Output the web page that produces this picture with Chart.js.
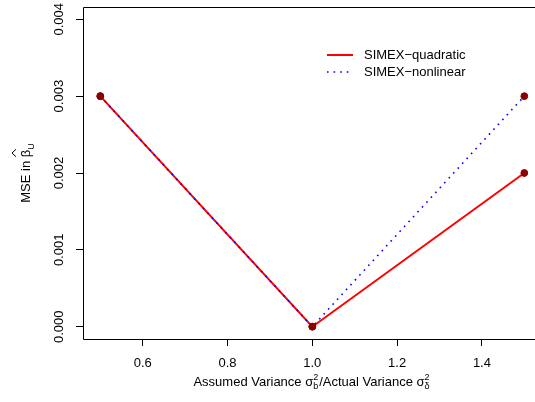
<!DOCTYPE html>
<html><head><meta charset="utf-8">
<script src="https://cdn.jsdelivr.net/npm/chart.js@4/dist/chart.umd.min.js"></script>
<style>html,body{margin:0;padding:0;overflow:hidden;background:#fff}canvas{display:block}</style>
</head><body>
<canvas id="c" width="535" height="402"></canvas>
<script>
const xValues = [0.5, 1.0, 1.5];
const quadraticMSE = [0.003, 0.0000, 0.002];
const nonlinearMSE = [0.003, 0.0000, 0.003];
const xTickValues = [0.6, 0.8, 1.0, 1.2, 1.4];
const xTickLabels = ['0.6', '0.8', '1.0', '1.2', '1.4'];
const yTickValues = [0, 0.001, 0.002, 0.003, 0.004];
const yTickLabels = ['0.000', '0.001', '0.002', '0.003', '0.004'];
const seriesLabels = ['SIMEX\u2212quadratic', 'SIMEX\u2212nonlinear'];

const FONT = '"Liberation Sans", Arial, sans-serif';
const toPts = ys => xValues.map((x, i) => ({x: x, y: ys[i]}));

const boxPlugin = {
  id: 'rbox',
  afterDraw(chart) {
    const {ctx, chartArea: a, scales} = chart;
    ctx.save();
    ctx.strokeStyle = '#000'; ctx.lineWidth = 1;
    const L = Math.round(a.left) + 0.5, T = Math.round(a.top) + 0.5, B = Math.round(a.bottom) + 0.5;
    ctx.beginPath(); ctx.moveTo(L, T); ctx.lineTo(chart.width, T); ctx.stroke();
    ctx.beginPath(); ctx.moveTo(L, T); ctx.lineTo(L, B); ctx.stroke();
    ctx.beginPath(); ctx.moveTo(L, B); ctx.lineTo(chart.width, B); ctx.stroke();
    // y tick labels (rotated)
    ctx.fillStyle = '#000';
    ctx.font = '13px ' + FONT;
    ctx.textAlign = 'center'; ctx.textBaseline = 'middle';
    yTickValues.forEach((v, i) => {
      const y = scales.y.getPixelForValue(v);
      ctx.save(); ctx.translate(59, y); ctx.rotate(-Math.PI / 2);
      ctx.fillText(yTickLabels[i], 0, 0); ctx.restore();
    });
    // y title: MSE in beta-hat_U
    const cy = (a.top + a.bottom) / 2;
    ctx.save(); ctx.translate(30, cy); ctx.rotate(-Math.PI / 2);
    ctx.textAlign = 'left'; ctx.textBaseline = 'alphabetic';
    const t1 = 'MSE in ';
    ctx.font = '13px ' + FONT;
    const w1 = ctx.measureText(t1).width;
    const wb = ctx.measureText('\u03b2').width;
    ctx.font = '9px ' + FONT;
    const ws = ctx.measureText('U').width;
    const total = w1 + wb + ws;
    const x0 = -total / 2;
    ctx.font = '13px ' + FONT;
    ctx.fillText(t1, x0, 0);
    ctx.fillText('\u03b2', x0 + w1, 0);
    ctx.lineWidth = 1; ctx.strokeStyle = '#000';
    ctx.beginPath();
    ctx.moveTo(x0 + w1 + 0.5, -14); ctx.lineTo(x0 + w1 + wb / 2 + 0.5, -18); ctx.lineTo(x0 + w1 + wb + 0.5, -14);
    ctx.stroke();
    ctx.font = '9px ' + FONT;
    ctx.fillText('U', x0 + w1 + wb, 4);
    ctx.restore();
    // x title
    ctx.save();
    const parts = [
      {t: 'Assumed Variance \u03c3'}, {sup: '2', sub: 'b'},
      {t: '/Actual Variance \u03c3'}, {sup: '2', sub: '\u03b4'}
    ];
    let tw = 0;
    parts.forEach(p => {
      if (p.t) { ctx.font = '13px ' + FONT; p.w = ctx.measureText(p.t).width; }
      else { ctx.font = '9px ' + FONT; p.w = Math.max(ctx.measureText(p.sup).width, ctx.measureText(p.sub).width) + 1; }
      tw += p.w;
    });
    let xx = 312 - tw / 2;
    const by = 386;
    ctx.textAlign = 'left'; ctx.textBaseline = 'alphabetic';
    parts.forEach(p => {
      if (p.t) { ctx.font = '13px ' + FONT; ctx.fillText(p.t, xx, by); }
      else { ctx.font = '9px ' + FONT; ctx.fillText(p.sup, xx, by - 6); ctx.fillText(p.sub, xx, by + 3); }
      xx += p.w;
    });
    ctx.restore();
    // legend
    ctx.save();
    const ds = chart.data.datasets;
    const rows = [ds[3], ds[2]];
    rows.forEach((d, i) => {
      const ly = 55 + i * 17;
      ctx.strokeStyle = d.borderColor; ctx.lineWidth = d.borderWidth;
      ctx.setLineDash(d.borderDash || []);
      ctx.beginPath(); ctx.moveTo(327, ly); ctx.lineTo(353, ly); ctx.stroke();
      ctx.setLineDash([]);
      ctx.fillStyle = '#000'; ctx.font = '13px ' + FONT;
      ctx.textAlign = 'left'; ctx.textBaseline = 'middle';
      ctx.fillText(d.label, 364, ly);
    });
    ctx.restore();
    ctx.restore();
  }
};

new Chart(document.getElementById('c'), {
  type: 'scatter',
  data: {
    datasets: [
      {label: 'pts-q', data: toPts(quadraticMSE), showLine: false, pointRadius: 3.4, pointBackgroundColor: '#8B0000', pointBorderColor: '#8B0000', order: 0, clip: false},
      {label: 'pts-n', data: toPts(nonlinearMSE), showLine: false, pointRadius: 3.4, pointBackgroundColor: '#8B0000', pointBorderColor: '#8B0000', order: 0, clip: false},
      {label: seriesLabels[1], data: toPts(nonlinearMSE), showLine: true, borderColor: '#0000FF', borderWidth: 1.6, borderDash: [1.6, 5], pointRadius: 0, fill: false, order: 1},
      {label: seriesLabels[0], data: toPts(quadraticMSE), showLine: true, borderColor: '#FF0000', borderWidth: 2, pointRadius: 0, fill: false, order: 2}
    ]
  },
  options: {
    responsive: false, animation: false, devicePixelRatio: 1,
    layout: {autoPadding: false, padding: {top: 7, right: 0, left: 0, bottom: 0}},
    plugins: {legend: {display: false}, tooltip: {enabled: false}},
    scales: {
      x: {
        type: 'linear', min: 0.4592, max: 1.5252,
        afterBuildTicks: s => { s.ticks = xTickValues.map(v => ({value: v})); },
        afterFit: s => { s.height = 63; },
        grid: {drawOnChartArea: false, drawTicks: true, tickLength: 7, color: '#000', lineWidth: 1},
        border: {display: false},
        ticks: {color: '#000', font: {family: FONT, size: 13}, padding: 10, maxRotation: 0, minRotation: 0,
          callback: (v, i) => xTickLabels[i]}
      },
      y: {
        type: 'linear', min: -0.00016, max: 0.00416,
        afterBuildTicks: s => { s.ticks = yTickValues.map(v => ({value: v})); },
        afterFit: s => { s.width = 83; },
        grid: {drawOnChartArea: false, drawTicks: true, tickLength: 7, color: '#000', lineWidth: 1},
        border: {display: false},
        ticks: {display: false}
      }
    }
  },
  plugins: [boxPlugin]
});
</script>
</body></html>
